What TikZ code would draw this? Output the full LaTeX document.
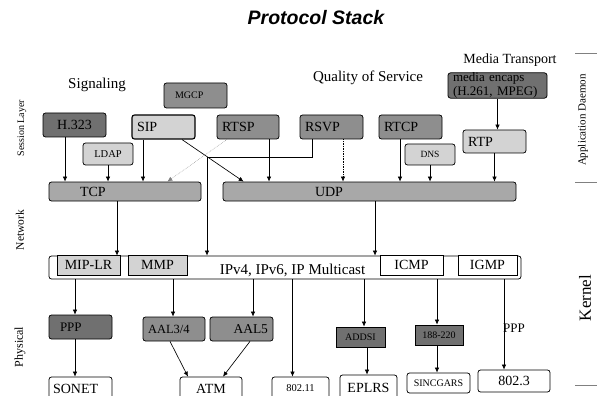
\documentclass[tikz,border=0pt]{standalone}
\usepackage{fontspec}
\setmainfont{Liberation Serif}
\newfontfamily\titlefont{Liberation Sans}
\usepackage{tikz}
\usetikzlibrary{positioning,arrows.meta,calc}
\definecolor{darkgrey}{RGB}{112,112,112}
\definecolor{midgrey}{RGB}{142,142,142}
\definecolor{tpgrey}{RGB}{168,168,168}
\definecolor{lightgrey}{RGB}{211,211,211}
\newcommand{\setfs}[1]{\fontsize{#1}{#1}\selectfont}

\begin{document}
\begin{tikzpicture}[x=1pt, y=-1pt, every node/.style={font=\setfs{14}},
  box/.style={rectangle, draw, rounded corners=2.5pt, inner xsep=5pt, inner ysep=0pt, line width=0.75pt, align=left},
  sqbox/.style={box, sharp corners, align=center},
  arr/.style={-{Latex[length=5pt,width=4.5pt]}, line width=0.65pt}]
  \useasboundingbox (0,0) rectangle (598,396);
  \clip (0,0) rectangle (598,396);

  % headings
  \node (title) at (316,18) {\titlefont\bfseries\itshape\setfs{19.5}Protocol Stack};
  \node (signaling) at (97,85) {\setfs{15}Signaling};
  \node (qos) at (368,78) {\setfs{15}Quality of Service};
  \node (mtrans) at (510,60) {Media Transport};

  % layer labels
  \node[rotate=90, font=\setfs{10}] (lsession) at (22,128) {Session Layer};
  \node[rotate=90, font=\setfs{11.5}] (lnetwork) at (20,230) {Network};
  \node[rotate=90, font=\setfs{12}] (lphysical) at (20,347) {Physical};
  \node[rotate=90, font=\setfs{11}] (lapp) at (583,120) {Application Daemon};
  \node[rotate=90, font=\setfs{17}] (lkernel) at (585,298) {Kernel};
  \draw[gray, line width=0.8pt] (575,53) -- (597,53) (575,182) -- (597,182) (575,385) -- (597,385);

  % session layer
  \node[box, fill=midgrey, text width=41pt, inner xsep=11pt, minimum height=25pt, font=\setfs{10}] (mgcp) at (195.5,95.5) {MGCP};
  \node[box, fill=darkgrey, text width=53pt, align=center, minimum height=24pt] (h323) at (74.5,125) {H.323};
  \node[box, fill=lightgrey, text width=53pt, minimum height=24pt, line width=1.1pt] (sip) at (163.5,127) {SIP};
  \node[box, fill=midgrey, text width=52pt, minimum height=24pt] (rtsp) at (248,127) {RTSP};
  \node[box, fill=lightgrey, text width=40pt, align=center, minimum height=22pt, font=\setfs{10.5}] (ldap) at (108,154) {LDAP};
  \node[box, fill=midgrey, text width=53pt, minimum height=24pt] (rsvp) at (331.5,127) {RSVP};
  \node[box, fill=midgrey, text width=53pt, minimum height=24pt] (rtcp) at (410.5,127) {RTCP};
  \node[box, fill=lightgrey, text width=40pt, align=center, minimum height=21pt, font=\setfs{9.5}] (dns) at (430,154.5) {DNS};
  \node[box, fill=darkgrey, text width=89pt, minimum height=25pt, font=\fontsize{13}{13.5}\selectfont] (encaps) at (497.5,85.5) {media encaps\\(H.261, MPEG)};
  \node[box, fill=lightgrey, text width=53pt, minimum height=23pt] (rtp) at (494.5,141.5) {RTP};

  % transport
  \node[box, fill=tpgrey, text width=90pt, inner xsep=31pt, minimum height=19pt] (tcp) at (125,191.5) {TCP};
  \node[box, fill=tpgrey, text width=109pt, inner xsep=92pt, minimum height=19pt] (udp) at (369.5,191.5) {UDP};

  % network
  \node[box, fill=white, minimum width=472pt, minimum height=23pt] (ip) at (285,267.5) {};
  \node[font=\setfs{15}] (iptext) at (292.5,270) {IPv4, IPv6, IP Multicast};
  \node[sqbox, fill=lightgrey, text width=53pt, minimum height=20pt] (miplr) at (88.5,265) {MIP-LR};
  \node[sqbox, fill=lightgrey, text width=49pt, minimum height=20pt] (mmp) at (157.5,265) {MMP};
  \node[sqbox, fill=white, text width=53pt, minimum height=20pt] (icmp) at (411.5,265) {ICMP};
  \node[sqbox, fill=white, text width=49pt, minimum height=20pt] (igmp) at (487.5,265) {IGMP};

  % physical
  \node[box, fill=darkgrey, text width=41pt, inner xsep=11pt, minimum height=24pt, font=\setfs{13}] (ppp) at (80.5,327) {PPP};
  \node[box, fill=midgrey, text width=52pt, minimum height=24pt, font=\setfs{12.5}] (aal34) at (174,329) {AAL3/4};
  \node[box, fill=midgrey, text width=53pt, align=right, minimum height=24pt, font=\setfs{13.5}] (aal5) at (241.5,329) {AAL5};
  \node[sqbox, fill=darkgrey, text width=39pt, minimum height=20pt, font=\setfs{10}] (addsi) at (360.5,337) {ADDSI};
  \node[sqbox, fill=darkgrey, text width=38pt, minimum height=20pt, font=\setfs{10}] (c188) at (439,335) {188-220};
  \node[font=\setfs{13}] (pppk) at (514,328) {PPP};
  \node[box, fill=white, text width=55pt, inner xsep=4pt, minimum height=23pt] (sonet) at (80.5,388.5) {SONET};
  \node[box, fill=white, text width=52pt, align=center, minimum height=23pt] (atm) at (211,388.5) {ATM};
  \node[box, fill=white, text width=47pt, align=center, minimum height=23pt, font=\setfs{10.5}] (w80211) at (300.5,388.5) {802.11};
  \node[box, fill=white, text width=47pt, align=center, minimum height=25pt] (eplrs) at (368.5,387.5) {EPLRS};
  \node[box, fill=white, text width=53pt, align=center, minimum height=20pt, font=\setfs{10}] (sincgars) at (438.5,383) {SINCGARS};
  \node[box, fill=white, text width=62pt, align=center, minimum height=22pt] (w8023) at (514,381) {802.3};

  % session -> transport
  \draw[arr] ([xshift=-9.5pt]h323.south) -- ([xshift=-9.5pt]h323.south |- tcp.north);
  \draw[arr] (ldap.south) -- (ldap.south |- tcp.north);
  \draw[arr] ([xshift=-20.5pt]sip.south) -- ([xshift=-20.5pt]sip.south |- tcp.north);
  \draw[arr] ([xshift=18.5pt]sip.south) -- ([xshift=21pt]udp.north west);
  \draw[arr, densely dotted, gray, line width=0.4pt] ([xshift=-21pt]rtsp.south) -- ([xshift=-34pt]tcp.north east);
  \draw[arr] ([xshift=21pt]rtsp.south) -- ([xshift=21pt]rtsp.south |- udp.north);
  \draw[arr] ([xshift=-19.5pt]rsvp.south) -- ++(0,18) -| ([xshift=-78pt]ip.north);
  \draw[arr, densely dotted] ([xshift=11.5pt]rsvp.south) -- ([xshift=11.5pt]rsvp.south |- udp.north);
  \draw[arr] ([xshift=-10.5pt]rtcp.south) -- ([xshift=-10.5pt]rtcp.south |- udp.north);
  \draw[arr] (dns.south) -- (dns.south |- udp.north);
  \draw[arr] (rtp.south) -- (rtp.south |- udp.north);
  \draw[arr] (encaps.south) -- (encaps.south |- rtp.north);

  % transport -> network
  \draw[arr] ([xshift=-8pt]tcp.south) -- ([xshift=-8pt]tcp.south |- ip.north);
  \draw[arr] ([xshift=5.5pt]udp.south) -- ([xshift=5.5pt]udp.south |- ip.north);

  % network -> physical
  \foreach \n/\dx in {ppp/-5.5, aal34/-1, aal5/11.5, w80211/-8, addsi/3.5, c188/-2, w8023/-10}
    \draw[arr] ([xshift=\dx pt]\n.north |- ip.south) -- ([xshift=\dx pt]\n.north);
  \draw[arr] ([xshift=-5.5pt]ppp.south) -- ([xshift=-5.5pt]ppp.south |- sonet.north);
  \draw[arr] ([xshift=-4pt]aal34.south) -- ([xshift=-23pt]atm.north);
  \draw[arr] ([xshift=8.5pt]aal5.south) -- ([xshift=12pt]atm.north);
  \draw[arr] ([xshift=6.5pt]addsi.south) -- ([xshift=6.5pt]addsi.south |- eplrs.north);
  \draw[arr] ([xshift=-2pt]c188.south) -- ([xshift=-2pt]c188.south |- sincgars.north);
\end{tikzpicture}
\end{document}
